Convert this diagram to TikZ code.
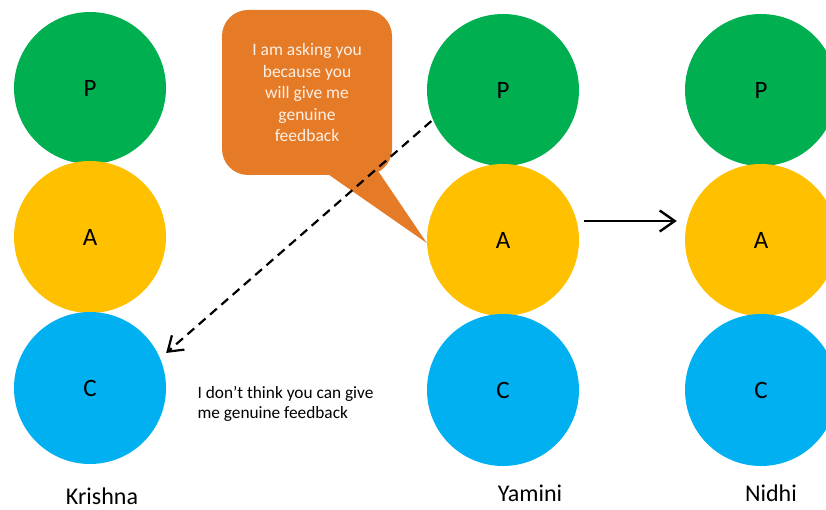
\documentclass[tikz,border=0pt]{standalone}
\usepackage{fontspec}
\setmainfont{Carlito}
\usetikzlibrary{arrows.meta}
\definecolor{pgreen}{HTML}{00B050}
\definecolor{ayellow}{HTML}{FFC000}
\definecolor{cblue}{HTML}{00B0F0}
\definecolor{borange}{HTML}{E57A27}
\definecolor{btext}{HTML}{FDF0E6}
\begin{document}
\begin{tikzpicture}[x=1pt,y=-1pt,
  ball/.style={circle,minimum size=152pt,inner sep=0pt,draw=none,
    font=\fontsize{25}{28}\selectfont},
  pball/.style={ball,fill=pgreen},
  aball/.style={ball,fill=ayellow},
  cball/.style={ball,fill=cblue},
  person/.style={font=\fontsize{24}{28}\selectfont},
  speech/.style={font=\fontsize{17.5}{21.5}\selectfont,align=center},
  link/.style={line width=2.4pt,-{Straight Barb[length=15pt,width=21pt,line width=2.4pt]}},
  doubt/.style={line width=2.2pt,dash pattern=on 9pt off 6pt,
    -{Straight Barb[length=14pt,width=19pt,line width=2.2pt]}}]
\useasboundingbox (0,0) rectangle (826,510);
\clip (0,0) rectangle (826,510);

% Krishna
\node[pball] (kp) at (90,88) {P};
\node[aball] (ka) at (90,237) {A};
\node[cball] (kc) at (90,388) {C};
\node[person] (kname) at (102,496) {Krishna};

% Yamini
\node[pball] (yp) at (503,90) {P};
\node[aball] (ya) at (503,240) {A};
\node[cball] (yc) at (503,390) {C};
\node[person] (yname) at (530,493) {Yamini};

% Nidhi
\node[pball] (np) at (761,90) {P};
\node[aball] (na) at (761,240) {A};
\node[cball] (nc) at (761,390) {C};
\node[person] (nname) at (771,493) {Nidhi};

% speech bubble with its pointer to Yamini
\fill[borange] (322,170) -- ([yshift=-3pt]ya.west) -- (374,165) -- cycle;
\node[fill=borange,rounded corners=26pt,minimum width=170pt,minimum height=165pt,
  text=btext,speech] (bubble) at (307,92.5)
  {I am asking you\\because you\\will give me\\genuine\\feedback};

% reply text
\node[font=\fontsize{17.3}{20}\selectfont,align=left,anchor=west] (reply) at (194,404)
  {I don’t think you can give\\me genuine feedback};

% connectors
\draw[link] ([yshift=19pt,xshift=5pt]ya.east) -- ([yshift=19pt,xshift=-8pt]na.west);
\draw[doubt,shorten <=2pt,shorten >=8pt] (yp.203) -- (kc.23);
\end{tikzpicture}
\end{document}
